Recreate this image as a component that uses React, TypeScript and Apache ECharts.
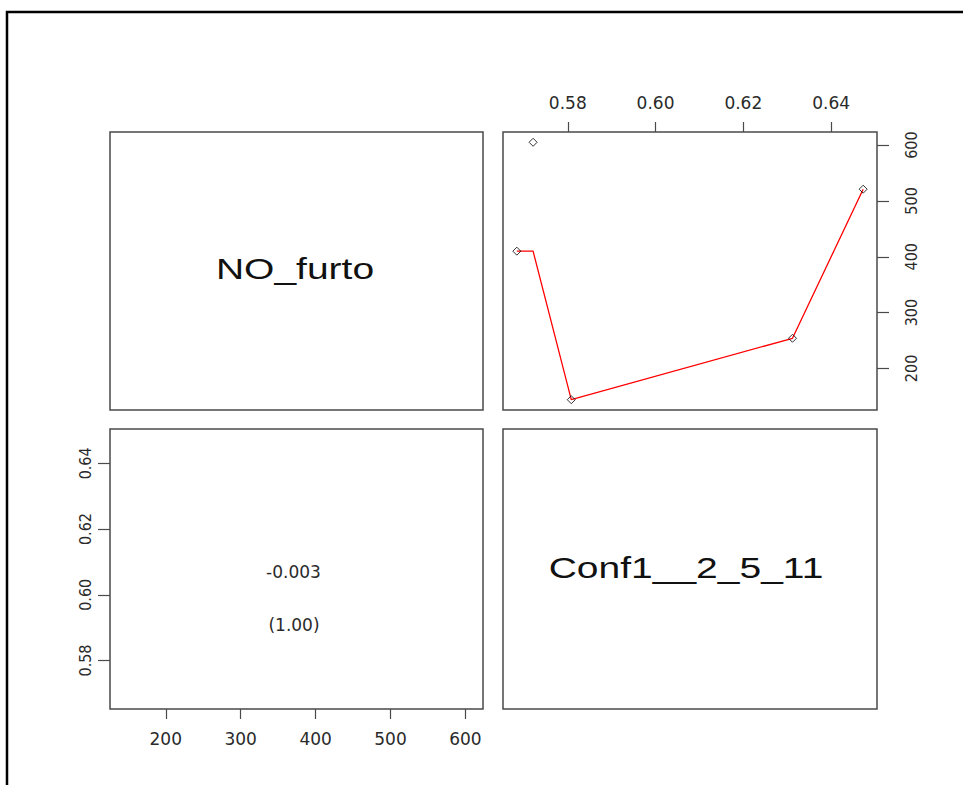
import React, { useEffect, useRef } from "react";
import * as echarts from "echarts";

// Variables of the scatterplot matrix
const varNames = ["NO_furto", "Conf1__2_5_11"];
// Observations (Conf1__2_5_11 on x, NO_furto on y in the upper panel)
const confValues = [0.5721, 0.5684, 0.5808, 0.6312, 0.6473];
const furtoValues = [605, 410, 144, 254, 521];
// Smoother (lowess) fitted values
const smoothConf = [0.5684, 0.5721, 0.5808, 0.6312, 0.6473];
const smoothFurto = [410, 410, 144, 254, 521];
// Correlation panel
const corrText = "-0.003";
const pValueText = "(1.00)";
// Tick labels
const confTicks = [0.58, 0.6, 0.62, 0.64];
const furtoTicks = [200, 300, 400, 500, 600];

function extRange(vals: number[]) {
  const lo = Math.min(...vals);
  const hi = Math.max(...vals);
  const pad = (hi - lo) * 0.04;
  return { min: lo - pad, max: hi + pad };
}

const BOX = "#4a4a4a";
const TXT = "#2a2a2a";
const HFONT = "'DejaVu Sans', sans-serif";
const VFONT = "'Liberation Sans Narrow', 'DejaVu Sans Condensed', 'Liberation Sans', sans-serif";

export default function App() {
  const ref = useRef<HTMLDivElement>(null);
  useEffect(() => {
    if (!ref.current) return;
    const chart = echarts.init(ref.current, undefined, { renderer: "svg" });
    const cR = extRange(confValues);
    const fR = extRange(furtoValues);
    const fmtConf = (v: number) => v.toFixed(2);
    const option: any = {
      animation: false,
      backgroundColor: "#ffffff",
      grid: [
        { left: 503, top: 132, width: 374, height: 278, show: true, borderColor: BOX, borderWidth: 1.5, backgroundColor: "transparent" },
        { left: 110, top: 429, width: 373, height: 280, show: true, borderColor: BOX, borderWidth: 1.5, backgroundColor: "transparent" },
      ],
      xAxis: [
        {
          gridIndex: 0, type: "value", position: "top", min: cR.min, max: cR.max,
          axisLine: { show: false },
          axisTick: { show: true, length: 10, customValues: confTicks, lineStyle: { color: BOX, width: 1.2 } },
          axisLabel: { customValues: confTicks, margin: 21, color: TXT, fontSize: 17, fontFamily: HFONT, formatter: fmtConf },
          splitLine: { show: false },
        },
        {
          gridIndex: 1, type: "value", position: "bottom", min: fR.min, max: fR.max,
          axisLine: { show: false },
          axisTick: { show: true, length: 10, customValues: furtoTicks, lineStyle: { color: BOX, width: 1.2 } },
          axisLabel: { customValues: furtoTicks, margin: 21, color: TXT, fontSize: 17, fontFamily: HFONT },
          splitLine: { show: false },
        },
      ],
      yAxis: [
        {
          gridIndex: 0, type: "value", position: "right", min: fR.min, max: fR.max,
          axisLine: { show: false },
          axisTick: { show: true, length: 12, customValues: furtoTicks, lineStyle: { color: BOX, width: 1.2 } },
          axisLabel: { customValues: furtoTicks, margin: 26, rotate: 90, color: TXT, fontSize: 16, fontFamily: VFONT },
          splitLine: { show: false },
        },
        {
          gridIndex: 1, type: "value", position: "left", min: cR.min, max: cR.max,
          axisLine: { show: false },
          axisTick: { show: true, length: 12, customValues: confTicks, lineStyle: { color: BOX, width: 1.2 } },
          axisLabel: { customValues: confTicks, margin: 17, rotate: 90, color: TXT, fontSize: 16, fontFamily: VFONT, formatter: fmtConf },
          splitLine: { show: false },
        },
      ],
      series: [
        {
          type: "line", xAxisIndex: 0, yAxisIndex: 0,
          data: smoothConf.map((x, i) => [x, smoothFurto[i]]),
          showSymbol: false, symbol: "none",
          lineStyle: { color: "#ff0000", width: 1.3 },
          z: 2,
        },
        {
          type: "scatter", xAxisIndex: 0, yAxisIndex: 0,
          data: confValues.map((x, i) => [x, furtoValues[i]]),
          symbol: "diamond", symbolSize: 8,
          itemStyle: { color: "transparent", borderColor: "#000000", borderWidth: 1 },
          z: 3,
        },
      ],
      graphic: [
        { type: "rect", shape: { x: 7, y: 12, width: 1200, height: 1200 }, style: { fill: "none", stroke: "#000000", lineWidth: 2.5 }, silent: true },
        { type: "rect", shape: { x: 110, y: 132, width: 373, height: 278 }, style: { fill: "none", stroke: BOX, lineWidth: 1.5 }, silent: true },
        { type: "rect", shape: { x: 503, y: 429, width: 374, height: 280 }, style: { fill: "none", stroke: BOX, lineWidth: 1.5 }, silent: true },
        { type: "text", x: 295, y: 269, scaleX: 1.3, style: { text: varNames[0], font: "30px 'Liberation Sans', Arial, sans-serif", fill: "#111", textAlign: "center", textVerticalAlign: "middle" }, silent: true },
        { type: "text", x: 686, y: 568, scaleX: 1.3, style: { text: varNames[1], font: "30px 'Liberation Sans', Arial, sans-serif", fill: "#111", textAlign: "center", textVerticalAlign: "middle" }, silent: true },
        { type: "text", x: 293.5, y: 572, style: { text: corrText, font: "17px 'DejaVu Sans', sans-serif", fill: TXT, textAlign: "center", textVerticalAlign: "middle" }, silent: true },
        { type: "text", x: 294, y: 625, style: { text: pValueText, font: "17px 'DejaVu Sans', sans-serif", fill: TXT, textAlign: "center", textVerticalAlign: "middle" }, silent: true },
      ],
    };
    chart.setOption(option);
    return () => chart.dispose();
  }, []);
  return (
    <div
      ref={ref}
      style={{ position: "absolute", left: 0, top: 0, width: 963, height: 785, background: "#fff" }}
    />
  );
}
